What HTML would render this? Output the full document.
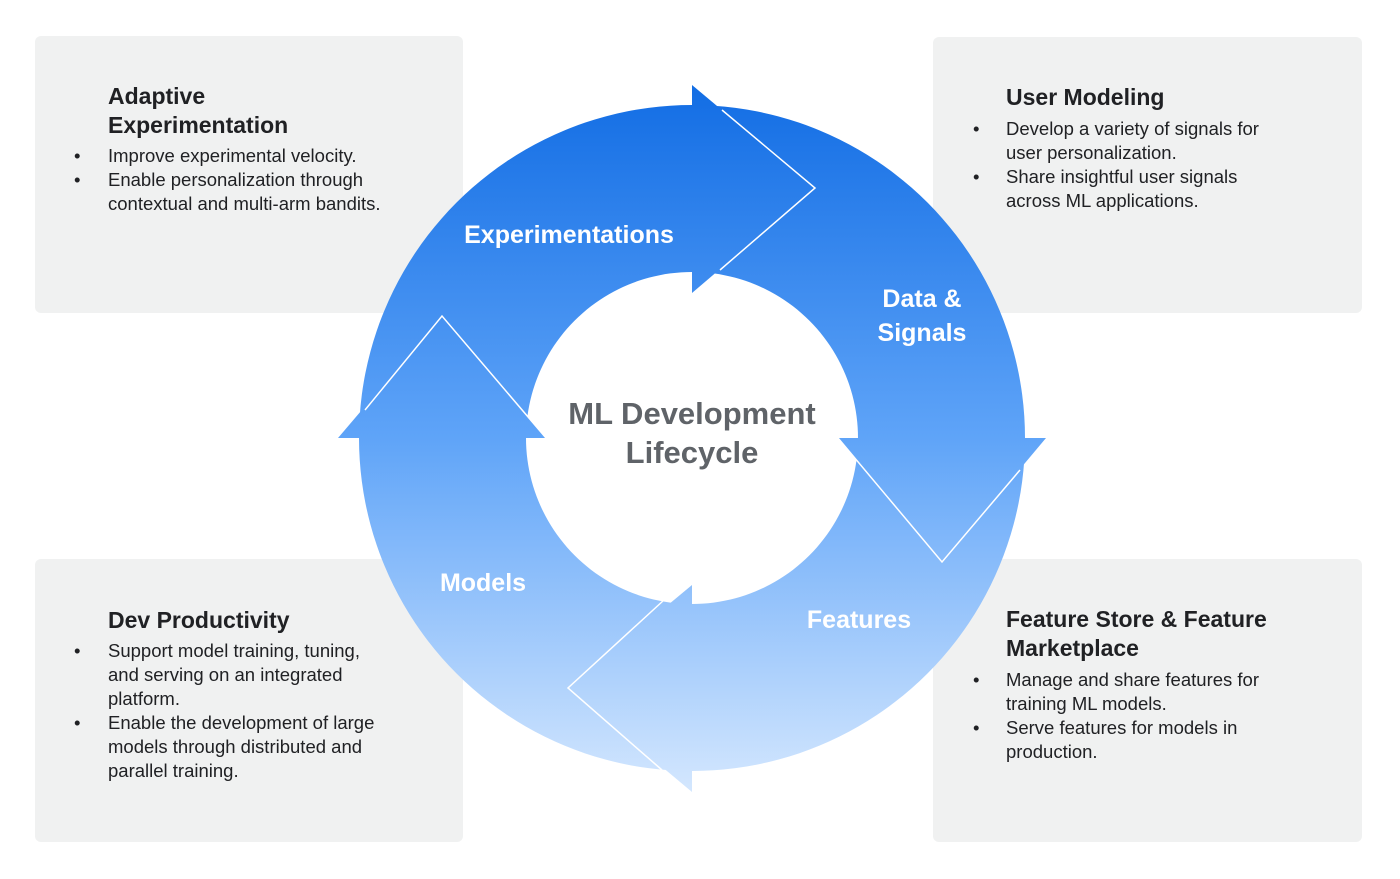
<!DOCTYPE html>
<html><head><meta charset="utf-8"><style>
html,body{margin:0;padding:0;background:#fff;}
svg{display:block;font-family:"Liberation Sans",sans-serif;}
.t{font-size:23px;font-weight:bold;fill:#202124;}
.b{font-size:18.5px;fill:#202124;}
.w{font-size:25px;font-weight:bold;fill:#fff;}
</style></head><body>
<svg width="1400" height="879" viewBox="0 0 1400 879">
<defs>
<linearGradient id="g" gradientUnits="userSpaceOnUse" x1="0" y1="85" x2="0" y2="792">
<stop offset="0" stop-color="#126de4"/>
<stop offset="0.5" stop-color="#5fa4f8"/>
<stop offset="1" stop-color="#d4e7fe"/>
</linearGradient>
</defs>
<rect x="35" y="36" width="428" height="277" rx="6" fill="#f0f1f1"/>
<rect x="933" y="37" width="429" height="276" rx="6" fill="#f0f1f1"/>
<rect x="35" y="559" width="428" height="283" rx="6" fill="#f0f1f1"/>
<rect x="933" y="559" width="429" height="283" rx="6" fill="#f0f1f1"/>

<path fill="url(#g)" fill-rule="evenodd" d="M692,105 a333,333 0 1,0 0.01,0 Z M692,272 a166,166 0 1,1 -0.01,0 Z"/>
<polygon fill="url(#g)" points="692,85 815,188 692,293"/>
<polygon fill="url(#g)" points="838,438 1046,438 942,562"/>
<polygon fill="url(#g)" points="692,585 692,792 568,688"/>
<polygon fill="url(#g)" points="338,438 546,438 442,316"/>
<g stroke="#fff" stroke-width="1.5" fill="none">
<polyline points="722,110 815,188 720,270"/>
<polyline points="838,438 942,562 1020,470"/>
<polyline points="664,600 568,688 662,770"/>
<polyline points="365,410 442,316 546,438"/>
</g>

<text class="w" x="569" y="243" text-anchor="middle">Experimentations</text>
<text class="w" x="922" y="307" text-anchor="middle">Data &amp;</text>
<text class="w" x="922" y="341" text-anchor="middle">Signals</text>
<text class="w" x="859" y="628" text-anchor="middle">Features</text>
<text class="w" x="483" y="591" text-anchor="middle">Models</text>
<text x="692" y="424" text-anchor="middle" font-size="31" font-weight="bold" fill="#5f6368">ML Development</text>
<text x="692" y="463" text-anchor="middle" font-size="31" font-weight="bold" fill="#5f6368">Lifecycle</text>

<g class="b">
<text class="t" x="108" y="104">Adaptive</text>
<text class="t" x="108" y="133">Experimentation</text>
<text x="74" y="162">•</text><text x="108" y="162">Improve experimental velocity.</text>
<text x="74" y="186">•</text><text x="108" y="186">Enable personalization through</text>
<text x="108" y="210">contextual and multi-arm bandits.</text>

<text class="t" x="1006" y="105">User Modeling</text>
<text x="973" y="135">•</text><text x="1006" y="135">Develop a variety of signals for</text>
<text x="1006" y="159">user personalization.</text>
<text x="973" y="183">•</text><text x="1006" y="183">Share insightful user signals</text>
<text x="1006" y="207">across ML applications.</text>

<text class="t" x="108" y="628">Dev Productivity</text>
<text x="74" y="657">•</text><text x="108" y="657">Support model training, tuning,</text>
<text x="108" y="681">and serving on an integrated</text>
<text x="108" y="705">platform.</text>
<text x="74" y="729">•</text><text x="108" y="729">Enable the development of large</text>
<text x="108" y="753">models through distributed and</text>
<text x="108" y="777">parallel training.</text>

<text class="t" x="1006" y="627">Feature Store &amp; Feature</text>
<text class="t" x="1006" y="656">Marketplace</text>
<text x="973" y="686">•</text><text x="1006" y="686">Manage and share features for</text>
<text x="1006" y="710">training ML models.</text>
<text x="973" y="734">•</text><text x="1006" y="734">Serve features for models in</text>
<text x="1006" y="758">production.</text>
</g>
</svg>
</body></html>
